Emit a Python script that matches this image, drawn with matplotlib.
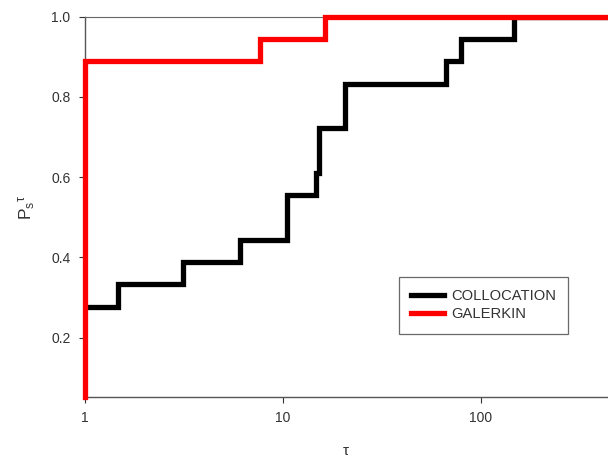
import numpy as np
import matplotlib.pyplot as plt

plt.rcParams['font.family'] = ['Liberation Sans', 'DejaVu Sans']
plt.rcParams['mathtext.fontset'] = 'custom'
plt.rcParams['mathtext.rm'] = 'Liberation Sans'
plt.rcParams['mathtext.it'] = 'Liberation Sans'

# performance profile, 18 problems
colloc_tau = [1, 1.48, 3.13, 6.1, 10.5, 14.8, 15.2, 20.7, 67, 80, 148, 440]
colloc_p = [5/18, 6/18, 7/18, 8/18, 10/18, 11/18, 13/18, 15/18, 16/18, 17/18, 1.0, 1.0]
galerkin_tau = [1, 1, 7.7, 16.4, 440]
galerkin_p = [0.052, 16/18, 17/18, 1.0, 1.0]

fig = plt.figure(figsize=(6.08, 4.57), dpi=100)
ax = fig.add_axes([0.139, 0.131, 0.861, 0.8325])

ax.step(colloc_tau, colloc_p, where='post', color='black', lw=3.8, label='COLLOCATION',
        solid_joinstyle='miter')
ax.step(galerkin_tau, galerkin_p, where='post', color='#ff0000', lw=3.8, label='GALERKIN',
        solid_joinstyle='miter', clip_on=False, zorder=3)

ax.set_xscale('log')
ax.set_xlim(1, 440)
ax.set_ylim(0.052, 1.0)
ax.set_xticks([1, 10, 100])
ax.set_xticklabels(['1', '10', '100'])
ax.xaxis.set_minor_locator(plt.NullLocator())
ax.set_yticks([0.2, 0.4, 0.6, 0.8, 1.0])
ax.set_yticklabels(['0.2', '0.4', '0.6', '0.8', '1.0'])
ax.tick_params(labelsize=10, colors='#333333', length=4, width=0.8, pad=6)

for s in ['left', 'bottom']:
    ax.spines[s].set_color('#555555')
    ax.spines[s].set_linewidth(1.0)
ax.spines['top'].set_color('#666666')
ax.spines['top'].set_linewidth(0.8)
ax.spines['right'].set_visible(False)

ax.set_xlabel(r'$\tau$', fontsize=11, color='#333333', labelpad=14)
ax.set_ylabel(r'$\mathrm{P_s}^{\tau}$', fontsize=12.5, color='#333333', labelpad=10)

leg = ax.legend(loc='upper left', bbox_to_anchor=(0.6, 0.316), fontsize=10.6, frameon=True,
                fancybox=False, edgecolor='#444444', handlelength=2.2, handletextpad=0.5,
                borderpad=0.85, labelspacing=0.25, borderaxespad=0)
leg.get_frame().set_linewidth(0.9)
for t in leg.get_texts():
    t.set_color('#333333')

fig.savefig('out.png', dpi=100)
